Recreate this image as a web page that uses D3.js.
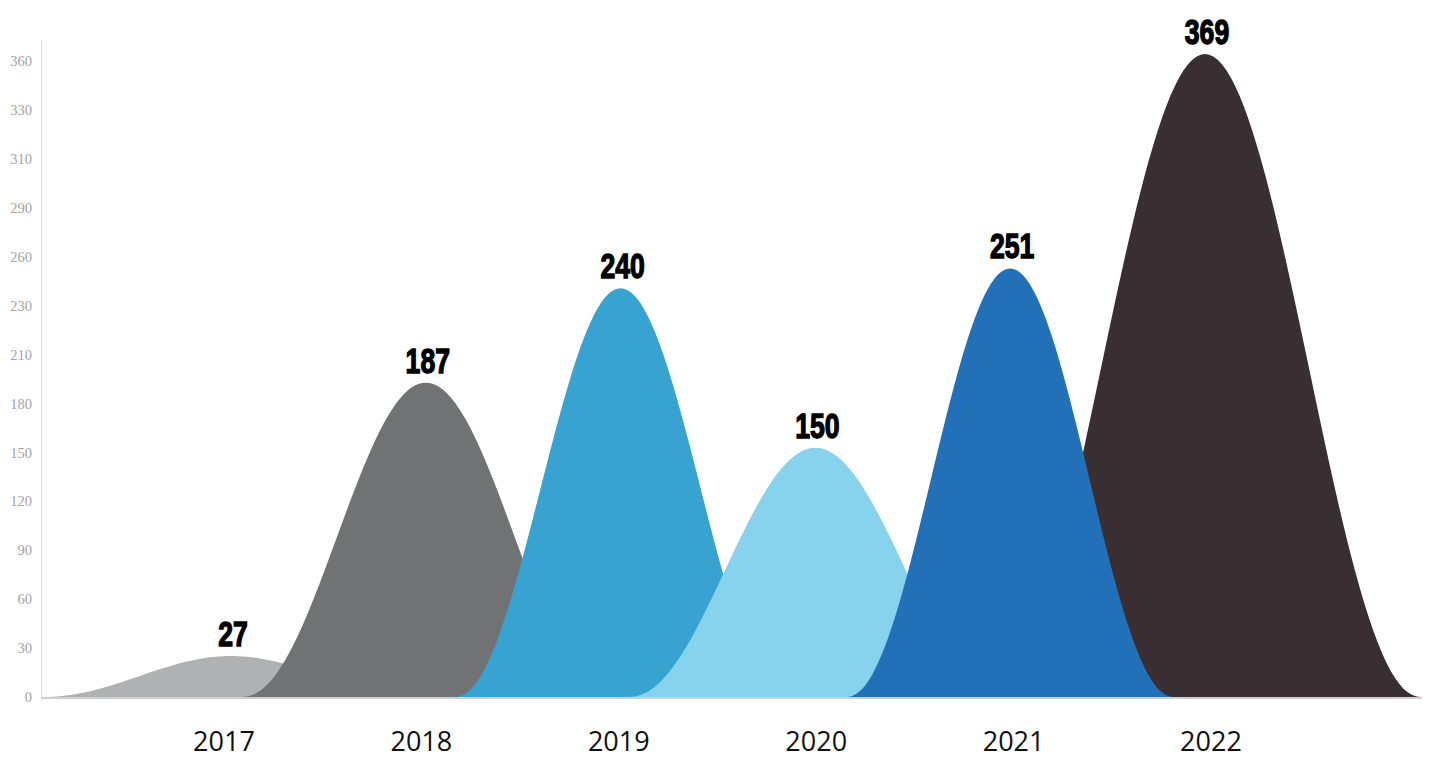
<!DOCTYPE html>
<html>
<head>
<meta charset="utf-8">
<script src="https://cdn.jsdelivr.net/npm/d3@7"></script>
<style>
  html, body { margin: 0; padding: 0; background: #ffffff; }
  svg { display: block; }
</style>
</head>
<body>
<svg id="chart" width="1429" height="758"></svg>
<script>
// ---- data ----
const years = ["2017", "2018", "2019", "2020", "2021", "2022"];
const values = [27, 187, 240, 150, 251, 369];
const yTickLabels = ["0", "30", "60", "90", "120", "150", "180", "210", "230", "260", "290", "310", "330", "360"];

// ---- styles ----
const colors = ["#b0b1b3", "#717274", "#38a3d0", "#87d3ee", "#2270b8", "#392f33"];
const halfWidth = [190, 184, 166, 187, 164, 216]; // px half base width of each bell
const drawOrder = [5, 0, 1, 2, 3, 4];

const baseY = 697, left = 41, right = 1422;

const svg = d3.select("#chart");

const x = d3.scalePoint().domain(years).range([231, 1205]);
const xLabel = d3.scalePoint().domain(years).range([224, 1211]);
const y = d3.scalePow().exponent(1.053).domain([0, 369]).range([baseY, 54]);
const yAxisScale = d3.scaleLinear().domain([0, yTickLabels.length - 1]).range([baseY, 61]);

// y axis
const yAxis = d3.axisLeft(yAxisScale)
  .tickValues(d3.range(yTickLabels.length))
  .tickFormat(i => yTickLabels[i])
  .tickSize(0)
  .tickPadding(9);
const gy = svg.append("g").attr("transform", `translate(${left},0)`).call(yAxis);
gy.select(".domain").remove();
gy.selectAll("text")
  .attr("fill", "#a3a3a3")
  .style("font-family", "'Liberation Serif', 'DejaVu Serif', serif")
  .style("font-size", "14.5px");
svg.append("line")
  .attr("x1", left + 0.5).attr("x2", left + 0.5)
  .attr("y1", 40).attr("y2", baseY)
  .attr("stroke", "#dcdcdc").attr("stroke-width", 1);

// bells
const bellLine = d3.line().x(d => d[0]).y(d => d[1]);
function bellPoints(i) {
  const cx = x(years[i]);
  const hw = halfWidth[i];
  const pts = [];
  const N = 100;
  for (let k = 0; k <= N; k++) {
    const t = -1 + 2 * k / N;
    const h = values[i] * (1 + Math.cos(Math.PI * t)) / 2;
    pts.push([cx + t * hw, y(h)]);
  }
  return pts;
}
svg.append("g").selectAll("path")
  .data(drawOrder)
  .join("path")
  .attr("d", i => bellLine(bellPoints(i)) + "Z")
  .attr("fill", i => colors[i]);

// baseline
svg.append("line")
  .attr("x1", left).attr("x2", right)
  .attr("y1", baseY + 1).attr("y2", baseY + 1)
  .attr("stroke", "#cfcfcf").attr("stroke-width", 2);

// value labels
svg.append("g").selectAll("text")
  .data(d3.range(years.length))
  .join("text")
  .attr("transform", i => `translate(${x(years[i]) + 2},${y(values[i]) - 10}) scale(0.76,1)`)
  .attr("text-anchor", "middle")
  .attr("fill", "#000")
  .attr("stroke", "#000")
  .attr("stroke-width", 1.4)
  .style("font-family", "'Liberation Sans', Arial, sans-serif")
  .style("font-weight", "bold")
  .style("font-size", "35px")
  .text(i => values[i]);

// x labels
svg.append("g").selectAll("text")
  .data(years)
  .join("text")
  .attr("x", d => xLabel(d))
  .attr("y", 751)
  .attr("text-anchor", "middle")
  .attr("fill", "#111")
  .style("font-family", "'Open Sans', 'Noto Sans', sans-serif")
  .style("font-size", "27px")
  .text(d => d);
</script>
</body>
</html>
